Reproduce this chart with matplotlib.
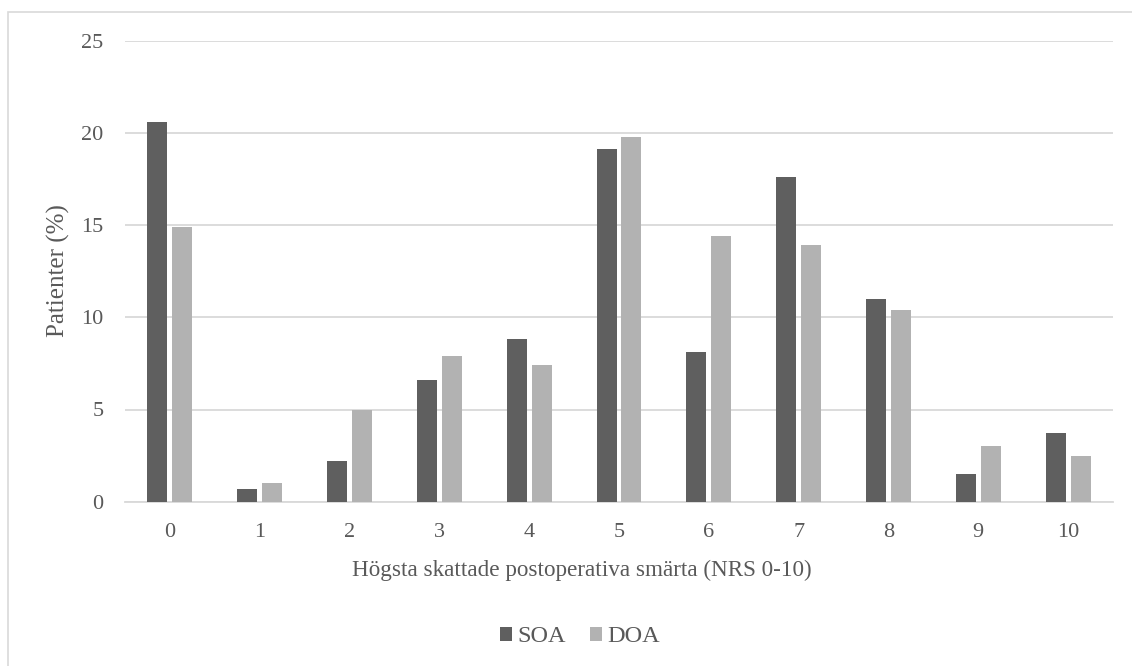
import numpy as np
import matplotlib.pyplot as plt
from matplotlib.patches import Rectangle

# NRS score categories and percentage of patients
scores = ["0", "1", "2", "3", "4", "5", "6", "7", "8", "9", "10"]
soa = [20.6, 0.7, 2.2, 6.6, 8.8, 19.1, 8.1, 17.6, 11.0, 1.5, 3.7]
doa = [14.9, 1.0, 5.0, 7.9, 7.4, 19.8, 14.4, 13.9, 10.4, 3.0, 2.5]
yticks = [0, 5, 10, 15, 20, 25]

plt.rcParams['font.family'] = ['Liberation Serif', 'DejaVu Serif']
txt = '#595959'
grid = '#d9d9d9'
W, H = 1132, 666

fig = plt.figure(figsize=(W / 100, H / 100), dpi=100)
# light chart border (right/bottom edges fall outside the picture)
fig.patches.append(Rectangle((8 / W, -0.05), 1.2, 1 - 12 / H + 0.05,
                             transform=fig.transFigure, fill=False,
                             edgecolor=grid, linewidth=1.2))

ax = fig.add_axes([125 / W, 1 - 501.7 / H, 988 / W, (501.7 - 40.7) / H])

x = np.arange(len(scores))
w = 0.223
off = 0.139
ax.bar(x - off, soa, w, color='#5f5f5f', label='SOA', zorder=3)
ax.bar(x + off, doa, w, color='#b2b2b2', label='DOA', zorder=3)

ax.set_xlim(-0.5, len(scores) - 0.5)
ax.set_ylim(0, 25)
ax.set_yticks(yticks)
ax.set_xticks(x)
ax.set_xticklabels(scores)
ax.yaxis.grid(True, color=grid, linewidth=1.3, zorder=0)
for s in ['top', 'right', 'left']:
    ax.spines[s].set_visible(False)
ax.spines['bottom'].set_color(grid)
ax.spines['bottom'].set_linewidth(1.3)
ax.tick_params(axis='both', length=0, labelsize=16, colors=txt)
ax.tick_params(axis='y', pad=15.5)
ax.tick_params(axis='x', pad=15)

# axis titles (Excel centres the x title on the whole chart area)
fig.text(58 / W, 1 - 271 / H, 'Patienter (%)', rotation=90, ha='center',
         va='center', fontsize=18, color=txt)
fig.text(582 / W, 1 - 576 / H, 'Högsta skattade postoperativa smärta (NRS 0-10)',
         ha='center', va='baseline', fontsize=16.7, color=txt)

leg = fig.legend(loc='center', bbox_to_anchor=(580 / W, 1 - 637 / H), ncol=2,
                 frameon=False, fontsize=17.5, handlelength=0.5, handleheight=0.5,
                 handletextpad=0.2, columnspacing=1.0)
for t in leg.get_texts():
    t.set_color(txt)

fig.savefig('out.png', dpi=100)
